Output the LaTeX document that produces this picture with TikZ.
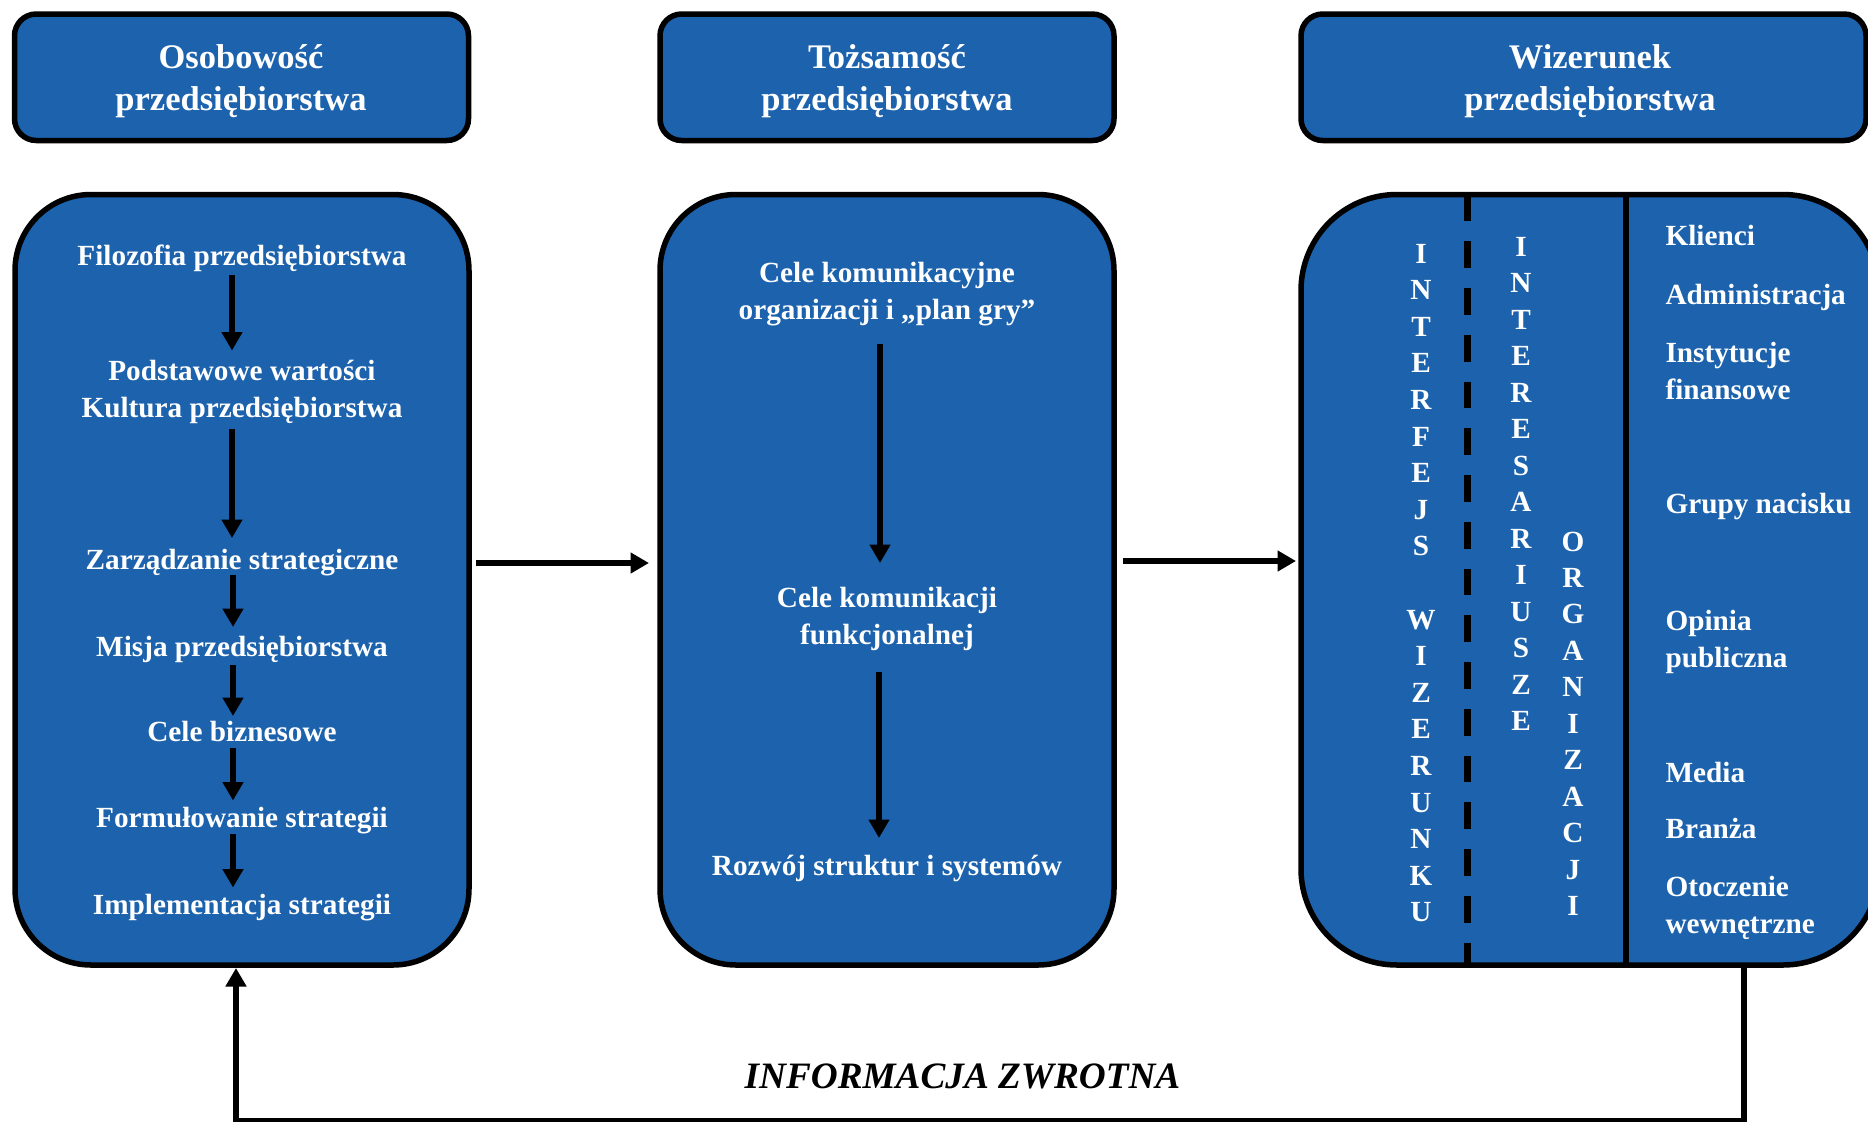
\documentclass[tikz,border=0pt]{standalone}
\usepackage{fontspec}
\setmainfont{Liberation Serif}
\usetikzlibrary{arrows.meta}
\definecolor{boxblue}{RGB}{28,98,172}
% two stacked lines whose baseline is the baseline of the first line
\newcommand{\twolines}[3]{\begin{tabular}[t]{@{}#1@{}}#2\\#3\end{tabular}}

\begin{document}
\begin{tikzpicture}[x=0.4pt,y=-0.4pt,
  hdrbox/.style={draw=black, line width=2.2pt, fill=boxblue, rounded corners=8.7pt,
                 minimum height=126.5*0.4pt, inner sep=0, outer sep=0},
  bigbox/.style={draw=black, line width=2.2pt, fill=boxblue,
                 minimum height=770.5*0.4pt, inner sep=0, outer sep=0},
  ttl/.style={text=white, font=\bfseries\fontsize{13.8}{16.8}\selectfont, inner sep=0, anchor=base},
  txt/.style={text=white, font=\bfseries\fontsize{11.7}{14.8}\selectfont, inner sep=0, anchor=base},
  lst/.style={txt, anchor=base west},
  arr/.style={line width=2.7pt, -{Triangle[length=7.4pt,width=8pt]}},
  fbtext/.style={font=\bfseries\itshape\fontsize{14.9}{18}\selectfont, inner sep=0, anchor=base}
]
\useasboundingbox (0,0) rectangle (1868,1121);

% header boxes
\node[hdrbox, minimum width=454*0.4pt] (h1) at (241.5,77.25) {};
\node[hdrbox, minimum width=454*0.4pt] (h2) at (887,77.25) {};
\node[hdrbox, minimum width=565*0.4pt] (h3) at (1583.5,77.25) {};
\node[ttl] (t1) at (241,68.5) {\twolines{c}{Osobowość}{przedsiębiorstwa}};
\node[ttl] (t2) at (887,68.5) {\twolines{c}{Tożsamość}{przedsiębiorstwa}};
\node[ttl] (t3) at (1590,68.5) {\twolines{c}{Wizerunek}{przedsiębiorstwa}};

% main boxes
\node[bigbox, rounded corners=30.4pt, minimum width=454*0.4pt] (b1) at (242,579.75) {};
\node[bigbox, rounded corners=30.4pt, minimum width=454*0.4pt] (b2) at (887,579.75) {};
\node[bigbox, rounded corners=38.4pt, minimum width=578*0.4pt] (b3) at (1590,579.75) {};

% personality chain
\node[txt] (filo) at (242,265) {Filozofia przedsiębiorstwa};
\node[txt] (wart) at (242,380.5) {\twolines{c}{Podstawowe wartości}{Kultura przedsiębiorstwa}};
\node[txt] (zarz) at (242,569) {Zarządzanie strategiczne};
\node[txt] (misja) at (242,656) {Misja przedsiębiorstwa};
\node[txt] (biz) at (242,741.5) {Cele biznesowe};
\node[txt] (form) at (242,827) {Formułowanie strategii};
\node[txt] (impl) at (242,914) {Implementacja strategii};

\draw[arr] ([shift={(-10,10)}]filo.base) -- ([shift={(-10,-30)}]wart.base);
\draw[arr] ([shift={(-10,48)}]wart.base) -- ([shift={(-10,-31)}]zarz.base);
\draw[arr] ([shift={(-9,6)}]zarz.base) -- ([shift={(-9,-29)}]misja.base);
\draw[arr] ([shift={(-9,9)}]misja.base) -- ([shift={(-9,-25.5)}]biz.base);
\draw[arr] ([shift={(-9,6.5)}]biz.base) -- ([shift={(-9,-26.5)}]form.base);
\draw[arr] ([shift={(-9,7)}]form.base) -- ([shift={(-9,-26.5)}]impl.base);

% identity chain
\node[txt] (kom) at (887,282) {\twolines{c}{Cele komunikacyjne}{organizacji i „plan gry”}};
\node[txt] (fun) at (887,607) {\twolines{c}{Cele komunikacji}{funkcjonalnej}};
\node[txt] (roz) at (887,875) {Rozwój struktur i systemów};
\draw[arr] ([shift={(-7,62)}]kom.base) -- ([shift={(-7,-44)}]fun.base);
\draw[arr] ([shift={(-8,65)}]fun.base) -- ([shift={(-8,-37)}]roz.base);

% links between the main boxes
\draw[arr] ([shift={(7,-16.75)}]b1.east) -- ([shift={(-11,-16.75)}]b2.west);
\draw[arr] ([shift={(9,-18.75)}]b2.east) -- ([shift={(-5,-18.75)}]b3.west);

% column dividers in the image box
\coordinate (dv1) at (1467,0);
\coordinate (dv2) at (1626,0);
\draw[line width=2.8pt, dash pattern=on 10.7pt off 8pt] (b3.north -| dv1) -- (b3.south -| dv1);
\draw[line width=2.2pt] (b3.north -| dv2) -- (b3.south -| dv2);

% vertical captions
\foreach \c [count=\i from 0] in {I,N,T,E,R,F,E,J,S}
  \node[txt] (ia\i) at (1421,{263+36.6*\i}) {\c};
\foreach \c [count=\i from 10] in {W,I,Z,E,R,U,N,K,U}
  \node[txt] (ib\i) at (1421,{263+36.6*\i}) {\c};
\foreach \c [count=\i from 0] in {I,N,T,E,R,E,S,A,R,I,U,S,Z,E}
  \node[txt] (is\i) at (1521,{256+36.5*\i}) {\c};
\foreach \c [count=\i from 0] in {O,R,G,A,N,I,Z,A,C,J,I}
  \node[txt] (or\i) at (1573,{551+36.45*\i}) {\c};

% stakeholder list
\node[lst] (kl) at (1665,245) {Klienci};
\node[lst] (adm) at (1665,304) {Administracja};
\node[lst] (ins) at (1665,362) {\twolines{l}{Instytucje}{finansowe}};
\node[lst] (gru) at (1665,513) {Grupy nacisku};
\node[lst] (opi) at (1665,630.5) {\twolines{l}{Opinia}{publiczna}};
\node[lst] (med) at (1665,782) {Media};
\node[lst] (bra) at (1665,838.5) {Branża};
\node[lst] (oto) at (1665,896.5) {\twolines{l}{Otoczenie}{wewnętrzne}};

% feedback loop
\coordinate (fbr) at (1744,1121);
\coordinate (fbl) at (236,1121);
\coordinate (fbt) at ([yshift=-1.2pt]b1.south);
\draw[arr] (b3.south -| fbr) -- (fbr) -- (fbl) -- (fbt -| fbl);
\node[fbtext] (fbt-label) at (962.5,1088) {INFORMACJA ZWROTNA};
\end{tikzpicture}
\end{document}
